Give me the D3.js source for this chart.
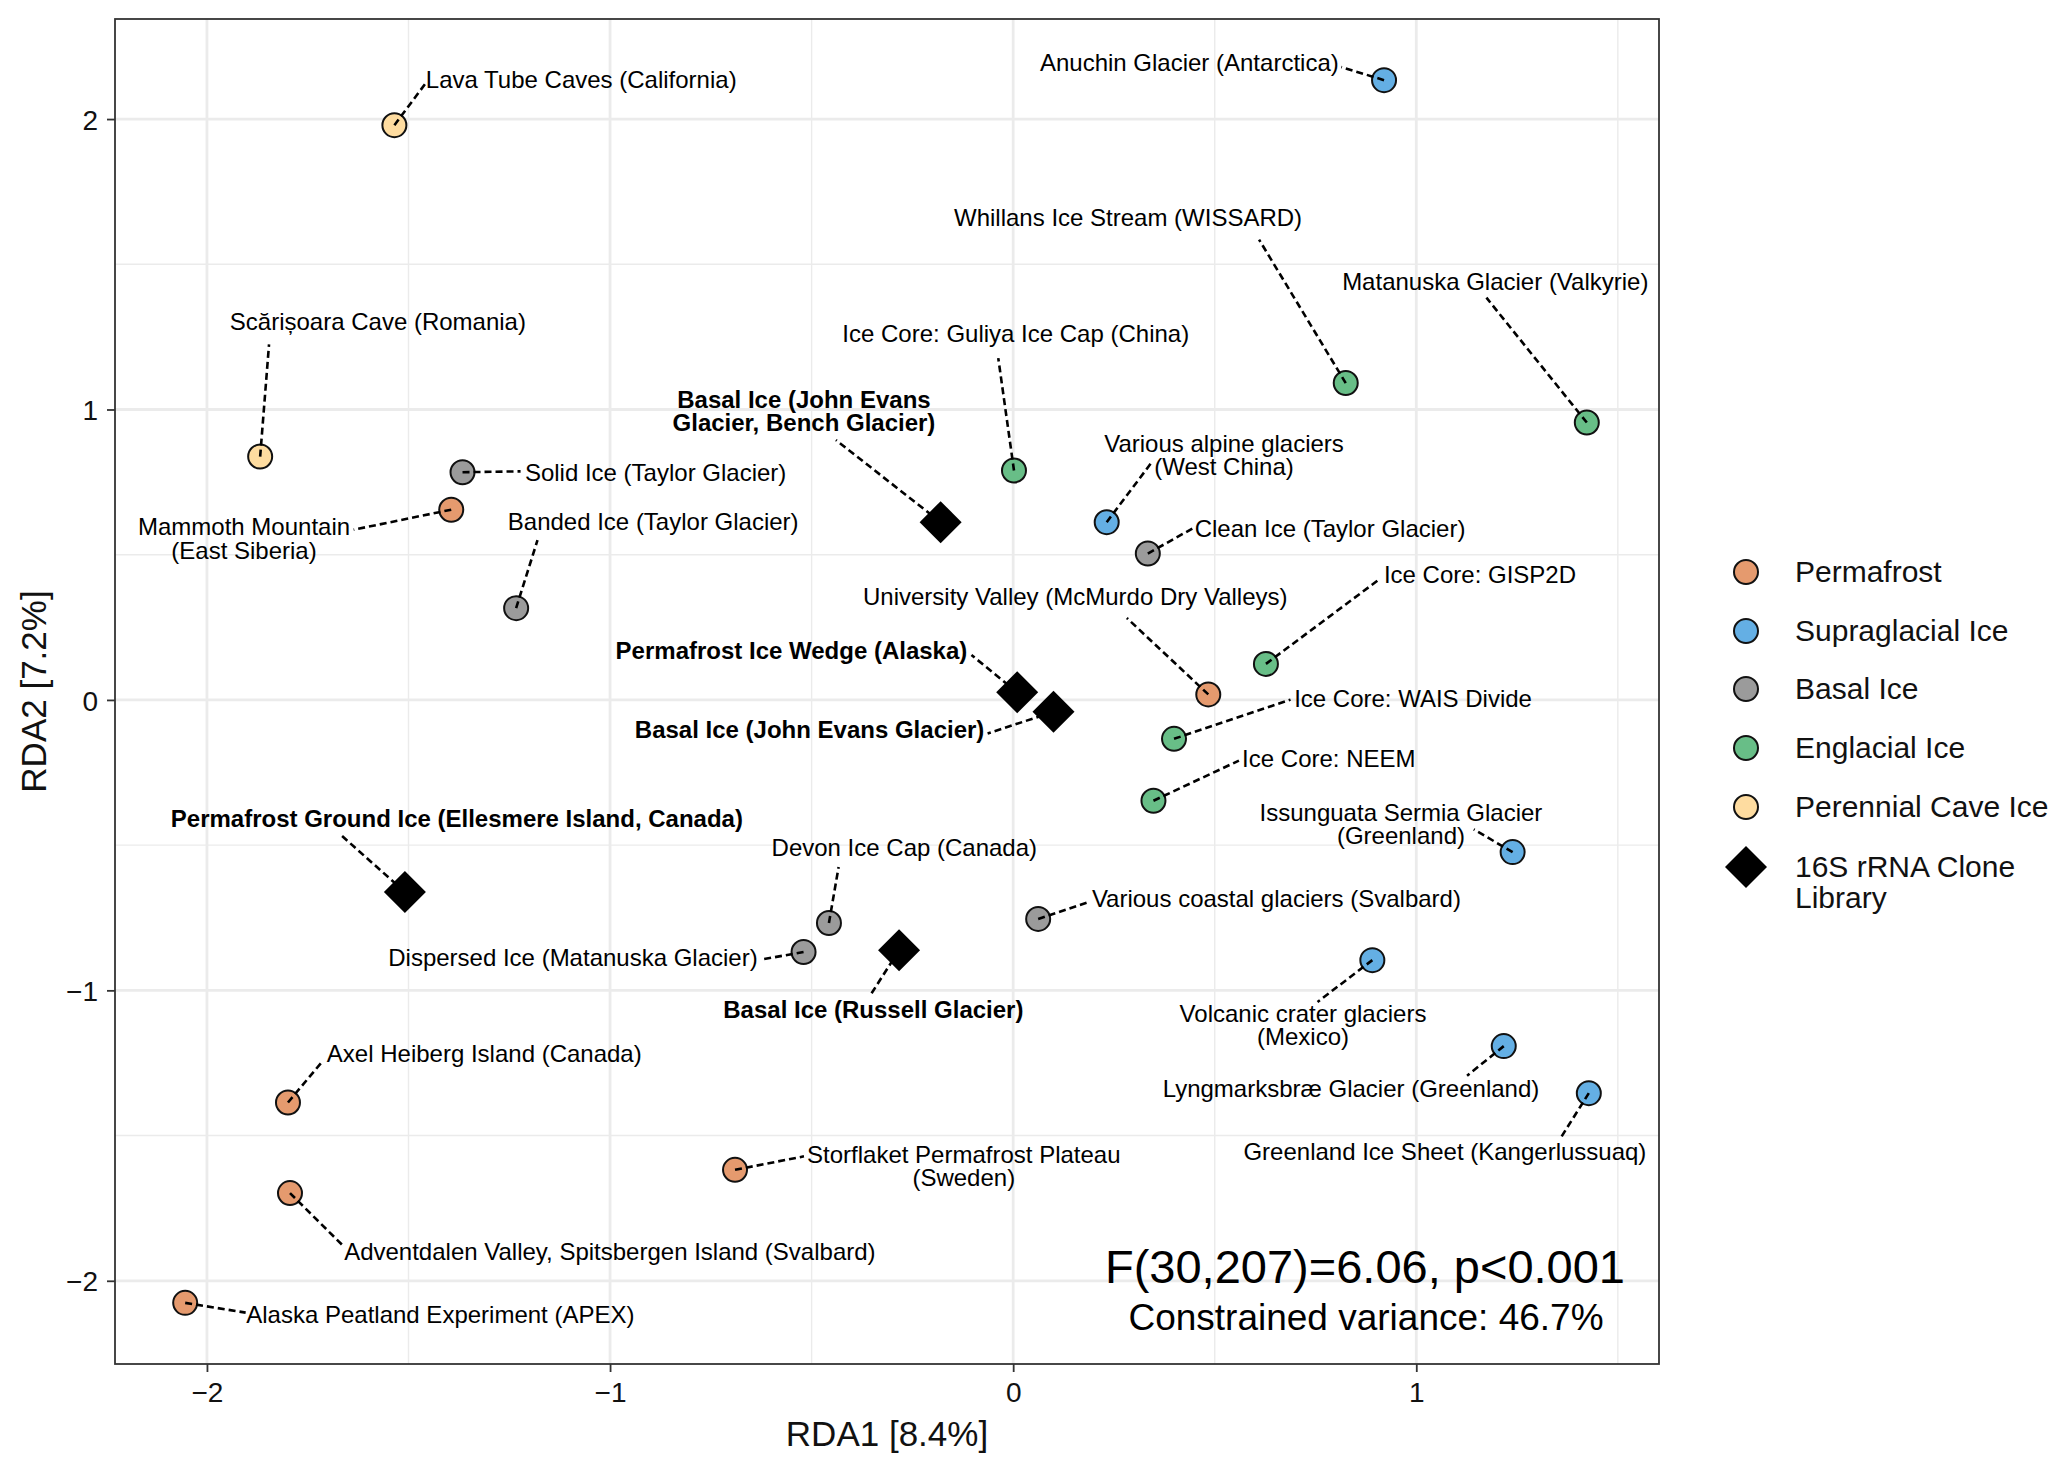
<!DOCTYPE html>
<html><head><meta charset="utf-8">
<script src="https://cdn.jsdelivr.net/npm/d3@7"></script>
<style>
body{margin:0;background:#fff;}
svg{display:block;font-family:"Liberation Sans",Arial,Helvetica,sans-serif;}
</style>
</head><body>
<svg id="chart" width="2067" height="1473"></svg>
<script>
// ---------------- DATA ----------------
const categories = ["Permafrost","Supraglacial Ice","Basal Ice","Englacial Ice","Perennial Cave Ice","16S rRNA Clone\nLibrary"];
const categoryColors = ["#E59A6E","#64AFE4","#9B9B9B","#68BE87","#FEDCA0","#000000"];

const siteNames = [
  "Mammoth Mountain\n(East Siberia)",
  "University Valley (McMurdo Dry Valleys)",
  "Axel Heiberg Island (Canada)",
  "Adventdalen Valley, Spitsbergen Island (Svalbard)",
  "Storflaket Permafrost Plateau\n(Sweden)",
  "Alaska Peatland Experiment (APEX)",
  "Anuchin Glacier (Antarctica)",
  "Various alpine glaciers\n(West China)",
  "Issunguata Sermia Glacier\n(Greenland)",
  "Volcanic crater glaciers\n(Mexico)",
  "Lyngmarksbræ Glacier (Greenland)",
  "Greenland Ice Sheet (Kangerlussuaq)",
  "Solid Ice (Taylor Glacier)",
  "Banded Ice (Taylor Glacier)",
  "Clean Ice (Taylor Glacier)",
  "Various coastal glaciers (Svalbard)",
  "Devon Ice Cap (Canada)",
  "Dispersed Ice (Matanuska Glacier)",
  "Whillans Ice Stream (WISSARD)",
  "Matanuska Glacier (Valkyrie)",
  "Ice Core: Guliya Ice Cap (China)",
  "Ice Core: GISP2D",
  "Ice Core: WAIS Divide",
  "Ice Core: NEEM",
  "Lava Tube Caves (California)",
  "Scărișoara Cave (Romania)",
  "Basal Ice (John Evans\nGlacier, Bench Glacier)",
  "Permafrost Ice Wedge (Alaska)",
  "Basal Ice (John Evans Glacier)",
  "Permafrost Ground Ice (Ellesmere Island, Canada)",
  "Basal Ice (Russell Glacier)"
];
const siteGroup = [0,0,0,0,0,0, 1,1,1,1,1,1, 2,2,2,2,2,2, 3,3,3,3,3,3, 4,4, 5,5,5,5,5];
const rda1 = [-1.394, 0.484,-1.799,-1.794,-0.690,-2.054,
               0.920, 0.232, 1.239, 0.891, 1.217, 1.428,
              -1.366,-1.233, 0.334, 0.062,-0.457,-0.520,
               0.825, 1.423, 0.002, 0.627, 0.399, 0.348,
              -1.535,-1.868,
              -0.180, 0.010, 0.100,-1.509,-0.283];
const rda2 = [ 0.655, 0.019,-1.386,-1.698,-1.618,-2.076,
               2.134, 0.612,-0.524,-0.896,-1.192,-1.354,
               0.784, 0.316, 0.504,-0.754,-0.768,-0.868,
               1.091, 0.955, 0.790, 0.124,-0.134,-0.347,
               1.979, 0.838,
               0.612, 0.026,-0.041,-0.661,-0.862];

const xTicks = [-2,-1,0,1];
const yTicks = [-2,-1,0,1,2];
const xMinor = [-1.5,-0.5,0.5,1.5];
const yMinor = [-1.5,-0.5,0.5,1.5];
const xTitle = "RDA1 [8.4%]";
const yTitle = "RDA2 [7.2%]";
const statLines = ["F(30,207)=6.06, p<0.001", "Constrained variance: 46.7%"];

// label layout (repelled label centres and segment ends, in data units)
const labelX = [-1.908, 0.154,-1.312,-1.0005,-0.1225,-1.421,
                 0.437, 0.523, 0.962, 0.719, 0.838, 1.071,
                -0.887,-0.893, 0.786, 0.653,-0.270,-1.092,
                 0.285, 1.196, 0.0064, 1.158, 0.992, 0.783,
                -1.0715,-1.576,
                -0.519,-0.550,-0.505,-1.380,-0.3468];
const labelY = [ 0.555, 0.354,-1.218,-1.899,-1.605,-2.116,
                 2.195, 0.842,-0.4285,-1.1206,-1.340,-1.557,
                 0.784, 0.612, 0.591,-0.686,-0.509,-0.889,
                 1.661, 1.439, 1.260, 0.430, 0.003,-0.201,
                 2.134, 1.301,
                 0.994, 0.170,-0.101,-0.4096,-1.0663];
const segX = [-1.636, 0.282,-1.712,-1.664,-0.519,-1.904,
               0.814, 0.343, 1.1426, 0.755, 1.126, 1.3587,
              -1.222,-1.180, 0.451, 0.189,-0.433,-0.623,
               0.610, 1.174,-0.037, 0.909, 0.688, 0.560,
              -1.456,-1.846,
              -0.4396,-0.1035,-0.0634,-1.667,-0.353];
const segY = [ 0.586, 0.282,-1.242,-1.877,-1.5715,-2.1096,
               2.179, 0.817,-0.4457,-1.040,-1.294,-1.507,
               0.787, 0.550, 0.595,-0.6955,-0.575,-0.8935,
               1.585, 1.385, 1.177, 0.416, 0.001,-0.209,
               2.126, 1.224,
               0.8948, 0.1546,-0.1155,-0.466,-1.0137];

// ---------------- CHART ----------------
const panel = {left:115, right:1659, top:19, bottom:1364};
const svg = d3.select("#chart");

function expand(ext, f){ const r = ext[1]-ext[0]; return [ext[0]-r*f, ext[1]+r*f]; }
const x = d3.scaleLinear().domain(expand(d3.extent(rda1),0.05)).range([panel.left, panel.right]);
const y = d3.scaleLinear().domain(expand(d3.extent(rda2),0.05)).range([panel.bottom, panel.top]);

svg.append("rect").attr("x",panel.left).attr("y",panel.top)
  .attr("width",panel.right-panel.left).attr("height",panel.bottom-panel.top).attr("fill","#fff");

const grid = svg.append("g");
grid.selectAll(".xm").data(xMinor).join("line")
  .attr("x1",d=>x(d)).attr("x2",d=>x(d)).attr("y1",panel.top).attr("y2",panel.bottom)
  .attr("stroke","#EBEBEB").attr("stroke-width",1.4);
grid.selectAll(".ym").data(yMinor).join("line")
  .attr("y1",d=>y(d)).attr("y2",d=>y(d)).attr("x1",panel.left).attr("x2",panel.right)
  .attr("stroke","#EBEBEB").attr("stroke-width",1.4);
grid.selectAll(".xM").data(xTicks).join("line")
  .attr("x1",d=>x(d)).attr("x2",d=>x(d)).attr("y1",panel.top).attr("y2",panel.bottom)
  .attr("stroke","#EBEBEB").attr("stroke-width",2.8);
grid.selectAll(".yM").data(yTicks).join("line")
  .attr("y1",d=>y(d)).attr("y2",d=>y(d)).attr("x1",panel.left).attr("x2",panel.right)
  .attr("stroke","#EBEBEB").attr("stroke-width",2.8);

// axes
const fmt = d => d < 0 ? "\u2212" + Math.abs(d) : String(d);
const xAxis = svg.append("g").attr("transform",`translate(0,${panel.bottom})`)
  .call(d3.axisBottom(x).tickValues(xTicks).tickFormat(fmt).tickSize(8).tickPadding(10));
const yAxis = svg.append("g").attr("transform",`translate(${panel.left},0)`)
  .call(d3.axisLeft(y).tickValues(yTicks).tickFormat(fmt).tickSize(8).tickPadding(9));
[xAxis,yAxis].forEach(a=>{
  a.select(".domain").remove();
  a.selectAll(".tick line").attr("stroke","#333333").attr("stroke-width",1.8);
  a.selectAll(".tick text").attr("fill","#111").attr("font-size",28)
    .attr("font-family",'"Liberation Sans",Arial,sans-serif');
});
xAxis.selectAll(".tick text").attr("dy","0.71em");
yAxis.selectAll(".tick text").attr("dy","0.36em");

svg.append("rect").attr("x",panel.left).attr("y",panel.top)
  .attr("width",panel.right-panel.left).attr("height",panel.bottom-panel.top)
  .attr("fill","none").attr("stroke","#333333").attr("stroke-width",1.8);

// axis titles
svg.append("text").attr("x",(panel.left+panel.right)/2).attr("y",1446)
  .attr("text-anchor","middle").attr("font-size",35).attr("fill","#111").text(xTitle);
svg.append("text").attr("transform",`translate(46,${(panel.top+panel.bottom)/2}) rotate(-90)`)
  .attr("text-anchor","middle").attr("font-size",35).attr("fill","#111").text(yTitle);

// points
const idx = d3.range(siteNames.length);
const diamond = r => `M0,${-r}L${r},0L0,${r}L${-r},0Z`;
const pts = svg.append("g");
pts.selectAll("circle").data(idx.filter(i=>siteGroup[i]<5)).join("circle")
  .attr("cx",i=>x(rda1[i])).attr("cy",i=>y(rda2[i])).attr("r",12)
  .attr("fill",i=>categoryColors[siteGroup[i]]).attr("stroke","#111").attr("stroke-width",2);
pts.selectAll("path").data(idx.filter(i=>siteGroup[i]===5)).join("path")
  .attr("transform",i=>`translate(${x(rda1[i])},${y(rda2[i])})`)
  .attr("d",diamond(21)).attr("fill","#000");

// repel segments
svg.append("g").selectAll("line").data(idx).join("line")
  .attr("x1",i=>x(rda1[i])).attr("y1",i=>y(rda2[i]))
  .attr("x2",i=>x(segX[i])).attr("y2",i=>y(segY[i]))
  .attr("stroke","#000").attr("stroke-width",2.6).attr("stroke-dasharray","7,4");

// labels
const LH = 23.4;
const lab = svg.append("g");
idx.forEach(i=>{
  const lines = siteNames[i].split("\n");
  const t = lab.append("text").attr("text-anchor","middle").attr("font-size",24)
    .attr("fill","#000").attr("font-weight", siteGroup[i]===5 ? "bold" : "normal");
  lines.forEach((s,j)=>{
    t.append("tspan").attr("x",x(labelX[i]))
     .attr("y", y(labelY[i]) + 8.3 + (j-(lines.length-1)/2)*LH).text(s);
  });
});

// statistics annotation
svg.append("text").attr("x",1365).attr("y",1283).attr("text-anchor","middle")
  .attr("font-size",47).attr("fill","#000").text(statLines[0]);
svg.append("text").attr("x",1366).attr("y",1330).attr("text-anchor","middle")
  .attr("font-size",37).attr("fill","#000").text(statLines[1]);

// legend
const legRowY = [572,631,689,748,807,867];
const leg = svg.append("g");
categories.forEach((c,k)=>{
  const gy = legRowY[k];
  if (k<5) {
    leg.append("circle").attr("cx",1746).attr("cy",gy).attr("r",12)
      .attr("fill",categoryColors[k]).attr("stroke","#111").attr("stroke-width",2);
  } else {
    leg.append("path").attr("transform",`translate(1746,${gy})`).attr("d",diamond(21)).attr("fill","#000");
  }
  const t = leg.append("text").attr("font-size",30).attr("fill","#111");
  c.split("\n").forEach((s,j)=>{
    t.append("tspan").attr("x",1795).attr("y",gy+10+j*31).text(s);
  });
});
</script>
</body></html>
